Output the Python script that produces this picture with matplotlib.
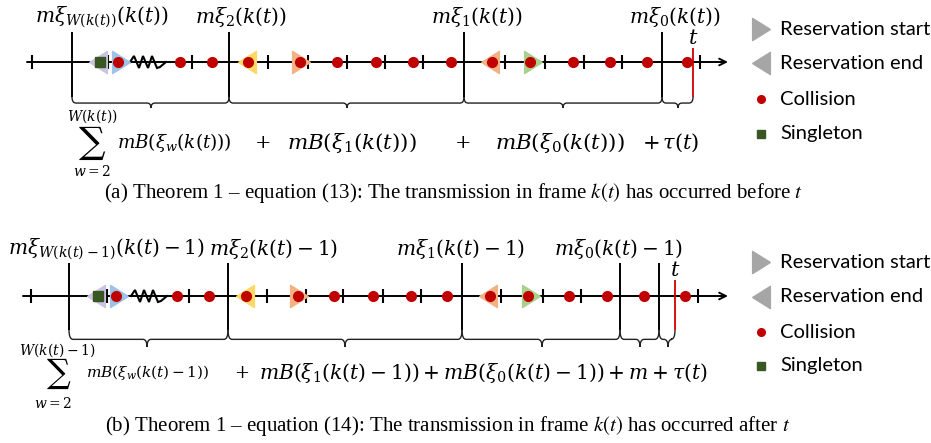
import matplotlib
matplotlib.use('Agg')
import matplotlib.pyplot as plt
from matplotlib.path import Path
from matplotlib.patches import PathPatch

plt.rcParams['mathtext.fontset'] = 'dejavuserif'

RED = '#c00000'
GREY = '#a6a6a6'
SQ = '#385723'
TRI_COLORS = {'purple': '#cbc3e0', 'blue': '#9dc3e6', 'yellow': '#ffd966',
              'orange': '#f4b183', 'green': '#a9d18e'}

# ---- panel (a): transmission before t ----
a_y = 62
a_axis = (27, 728)
a_ticks = [32, 108, 192, 268, 308, 347, 385, 423, 505, 545, 584, 622, 700]
a_frames = [72, 229, 464, 662]
a_frame_top = 32
a_collisions = [118, 180, 212, 248, 300, 337, 376, 413, 451, 492, 530, 573, 610, 647, 687]
a_res_start = [(121, 'blue'), (301, 'orange'), (533, 'green')]
a_res_end = [(98, 'purple'), (247, 'yellow'), (490, 'orange')]
a_singleton = [100]
a_zigzag = 130
a_t = 693
a_t_top = 48
a_brace_top = 97
a_braces = [(72, 229, 151), (229, 464, 347), (464, 662, 563), (662, 693, 678)]
a_labels = [r'$m\xi_{W(k(t))}(k(t))$', r'$m\xi_2(k(t))$', r'$m\xi_1(k(t))$', r'$m\xi_0(k(t))$']
a_label_x = [102, 241, 477, 675]
a_terms = [r'$mB(\xi_w(k(t)))$', '$+$', r'$mB(\xi_1(k(t)))$', '$+$',
           r'$mB(\xi_0(k(t)))$', r'$+\,\tau(t)$']
a_term_x = [174, 262, 352, 462, 560, 671]
a_term_size = [13.2, 14, 15.4, 14, 15.4, 15]
a_sum_top = r'$W(k(t))$'
a_caption = ('(a) Theorem 1 \u2013 equation (13): The transmission in frame $k(t)$ '
             'has occurred before $t$')

# ---- panel (b): transmission after t ----
b_y = 296
b_axis = (23, 728)
b_ticks = [31, 107, 189, 267, 306, 343, 383, 421, 501, 543, 581, 698]
b_frames = [69, 228, 462, 620, 659]
b_frame_top = 263
b_collisions = [116, 177, 209, 246, 298, 334, 373, 411, 447, 490, 528, 569, 607, 644, 685]
b_res_start = [(119, 'blue'), (299, 'orange'), (531, 'green')]
b_res_end = [(96, 'purple'), (245, 'yellow'), (488, 'orange')]
b_singleton = [98]
b_zigzag = 131
b_t = 675
b_t_top = 280
b_brace_top = 330
b_braces = [(69, 228, 147), (228, 462, 345), (462, 620, 542), (620, 659, 640), (659, 675, 668)]
b_labels = [r'$m\xi_{W(k(t)-1)}(k(t)-1)$', r'$m\xi_2(k(t)-1)$',
            r'$m\xi_1(k(t)-1)$', r'$m\xi_0(k(t)-1)$']
b_label_x = [106, 274, 461, 619]
b_terms = [r'$mB(\xi_w(k(t)\,{-}\,1))$', '$+$',
           r'$mB(\xi_1(k(t)-1)) + mB(\xi_0(k(t)-1)) +m+\tau(t)$']
b_term_x = [147, 242, 483]
b_term_size = [11, 13, 14.6]
b_sum_top = r'$W(k(t)-1)$'
b_caption = ('(b) Theorem 1 \u2013 equation (14): The transmission in frame $k(t)$ '
             'has occurred after $t$')

legend_names = ['Reservation start', 'Reservation end', 'Collision', 'Singleton']

# zigzag shape (offsets from its start, in px)
zz_dx = [0, 4, 9, 13, 18, 22, 27, 30, 36]
zz_dy = [0, -6, 6, -6, 6, -6, 6, 5, 0]

LEFT_TRI = [(-0.8, 0), (0.8, 1), (0.8, -1), (-0.8, 0)]
RIGHT_TRI = [(0.8, 0), (-0.8, 1), (-0.8, -1), (0.8, 0)]


def brace(ax, x0, x1, tip, ytop, depth):
    h = ytop + depth * 0.55
    yb = ytop + depth
    r = 4
    verts = [(x0, ytop), (x0, h), (x0 + r, h), (tip - r, h), (tip, h), (tip, yb),
             (tip, h), (tip + r, h), (x1 - r, h), (x1, h), (x1, ytop)]
    codes = [Path.MOVETO, Path.CURVE3, Path.CURVE3, Path.LINETO, Path.CURVE3, Path.CURVE3,
             Path.CURVE3, Path.CURVE3, Path.LINETO, Path.CURVE3, Path.CURVE3]
    ax.add_patch(PathPatch(Path(verts, codes), fc='none', ec='#222222', lw=1.0))


def timeline(ax, y, axis, ticks, frames, frame_top, cols, rstart, rend, single,
             zz, t, t_top, brace_top, braces, depth):
    # main time axis with arrow
    ax.annotate('', xy=(axis[1], y), xytext=(axis[0], y),
                arrowprops=dict(arrowstyle='->', lw=1.4, color='k',
                                shrinkA=0, shrinkB=0, mutation_scale=12))
    # zigzag (skipped slots)
    zx = [zz + d for d in zz_dx]
    zy = [y + d for d in zz_dy]
    ax.plot(zx, zy, color='white', lw=4, zorder=2)
    ax.plot(zx, zy, color='k', lw=1.5, zorder=3, solid_joinstyle='miter')
    ax.plot(ticks, [y] * len(ticks), ls='', marker='|', ms=9.5, mew=1.5, color='k', zorder=3)
    ax.vlines(frames, frame_top, brace_top, color='k', lw=1.4, zorder=3)
    ax.vlines([t], t_top, brace_top, color='#d00000', lw=1.3, zorder=3)
    ax.text(t, t_top - 10, '$t$', ha='center', va='center', fontsize=15)
    for x, c in rend:
        ax.plot([x], [y], ls='', marker=LEFT_TRI, ms=16, color=TRI_COLORS[c], zorder=4)
    for x, c in rstart:
        ax.plot([x], [y], ls='', marker=RIGHT_TRI, ms=16, color=TRI_COLORS[c], zorder=4)
    ax.plot(single, [y] * len(single), ls='', marker='s', ms=6.5, color=SQ, zorder=5)
    ax.plot(cols, [y] * len(cols), ls='', marker='o', ms=7, color=RED, zorder=5)
    for x0, x1, tip in braces:
        brace(ax, x0, x1, tip, brace_top, depth)


def legend(ax, rows):
    mx, tx = 761, 780
    ax.plot([mx], [rows[0]], ls='', marker=RIGHT_TRI, ms=16, color=GREY)
    ax.plot([mx], [rows[1]], ls='', marker=LEFT_TRI, ms=16, color=GREY)
    ax.plot([mx], [rows[2]], ls='', marker='o', ms=5.5, color=RED)
    ax.plot([mx], [rows[3]], ls='', marker='s', ms=6, color=SQ)
    for yy, name in zip(rows, legend_names):
        ax.text(tx, yy, name, ha='left', va='center', fontsize=14.5, family='Lato')


fig = plt.figure(figsize=(9.31, 4.43), dpi=100)
ax = fig.add_axes([0, 0, 1, 1])
ax.set_xlim(0, 931)
ax.set_ylim(443, 0)
ax.axis('off')

# panel a
timeline(ax, a_y, a_axis, a_ticks, a_frames, a_frame_top, a_collisions, a_res_start,
         a_res_end, a_singleton, a_zigzag, a_t, a_t_top, a_brace_top, a_braces, 11)
for x, s in zip(a_label_x, a_labels):
    ax.text(x, 17, s, ha='center', va='center', fontsize=14.5)
ax.text(92, 143, r'$\sum$', ha='center', va='center', fontsize=19)
ax.text(92, 116, a_sum_top, ha='center', va='center', fontsize=10)
ax.text(92, 171, '$w=2$', ha='center', va='center', fontsize=10)
for x, s, fs in zip(a_term_x, a_terms, a_term_size):
    ax.text(x, 143, s, ha='center', va='center', fontsize=fs)
ax.text(454, 193, a_caption, ha='center', va='center', fontsize=15,
        family='Liberation Serif', math_fontfamily='stix')
legend(ax, [29, 63, 99, 134])

# panel b
timeline(ax, b_y, b_axis, b_ticks, b_frames, b_frame_top, b_collisions, b_res_start,
         b_res_end, b_singleton, b_zigzag, b_t, b_t_top, b_brace_top, b_braces, 17)
for x, s in zip(b_label_x, b_labels):
    ax.text(x, 249, s, ha='center', va='center', fontsize=14.5)
ax.text(59, 374, r'$\sum$', ha='center', va='center', fontsize=17)
ax.text(57, 350, b_sum_top, ha='center', va='center', fontsize=10)
ax.text(53, 403, '$w=2$', ha='center', va='center', fontsize=10)
for x, s, fs in zip(b_term_x, b_terms, b_term_size):
    ax.text(x, 373, s, ha='center', va='center', fontsize=fs)
ax.text(448, 426, b_caption, ha='center', va='center', fontsize=15,
        family='Liberation Serif', math_fontfamily='stix')
legend(ax, [262, 297, 332, 366])

fig.savefig('out.png', dpi=100)
